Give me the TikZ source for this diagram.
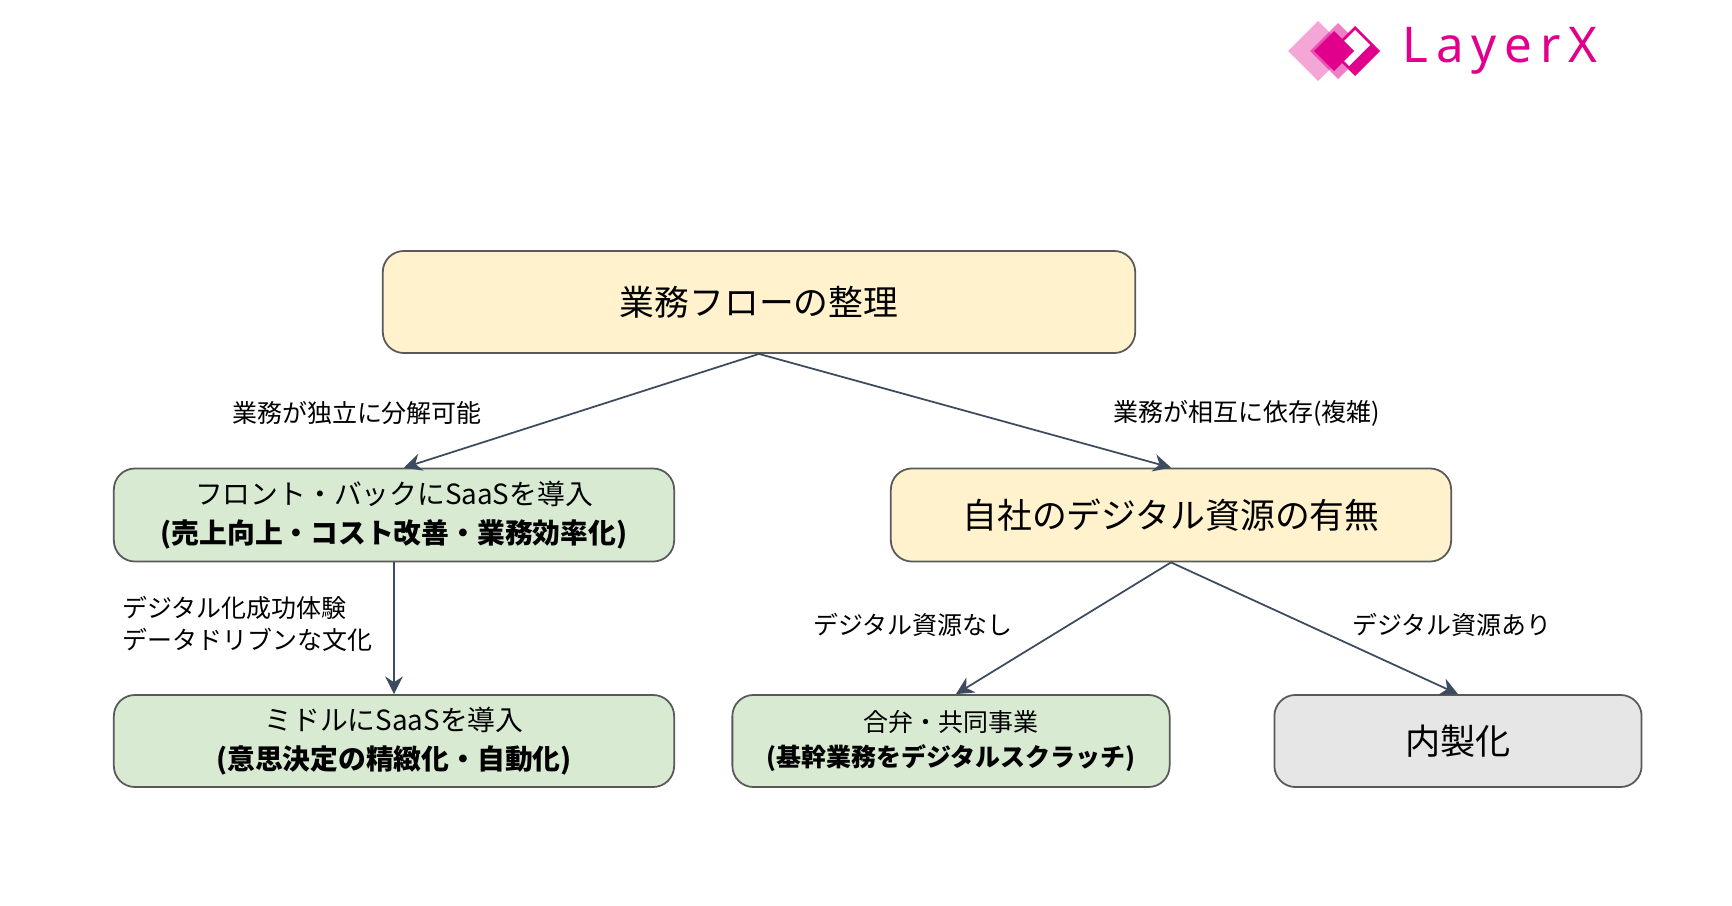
\documentclass[tikz,border=0pt]{standalone}
\usepackage{fontspec}
\setmainfont{Noto Sans CJK JP}
\newfontfamily\logofont[LetterSpace=16]{Noto Sans}
\usetikzlibrary{arrows.meta}
\definecolor{boxyellow}{HTML}{FFF2CC}
\definecolor{boxgreen}{HTML}{D9EAD3}
\definecolor{boxgray}{HTML}{E6E6E6}
\definecolor{lineblue}{HTML}{3D4B5E}
\definecolor{lxpink}{HTML}{E0008C}
\begin{document}
\begin{tikzpicture}[
    x=0.01cm, y=-0.01cm,
    box/.style={
        draw=black!65,
        line width=0.5pt,
        rounded corners=6pt,
        align=center,
        inner sep=0pt
    },
    yellowbox/.style={box, fill=boxyellow},
    greenbox/.style={box, fill=boxgreen},
    graybox/.style={box, fill=boxgray},
    lbl/.style={font=\fontsize{7.1}{9}\selectfont},
    arr/.style={-{Stealth[length=5pt,width=5pt]}, draw=lineblue, line width=0.5pt}
]
    \useasboundingbox (0,0) rectangle (1732,906);

    % --- Logo ---
    \fill[lxpink, opacity=0.35] (1288,51) -- (1318,21) -- (1348,51) -- (1318,81) -- cycle;
    \fill[lxpink, opacity=0.5] (1310,51) -- (1338,23) -- (1366,51) -- (1338,79) -- cycle;
    \fill[lxpink] (1330,51) -- (1355,26) -- (1380,51) -- (1355,76) -- cycle;
    \fill[white] (1334,51) -- (1355,30) -- (1370,45) -- (1349,66) -- cycle;
    \fill[lxpink] (1314,51) -- (1334,31) -- (1354,51) -- (1334,71) -- cycle;
    \node[anchor=west, text=lxpink, font=\logofont\bfseries\fontsize{14}{14}\selectfont] (logo) at (1390,51) {LayerX};

    % --- Boxes ---
    \node[yellowbox, minimum width=7.52cm, minimum height=1.02cm, font=\fontsize{9.9}{12}\selectfont] (flow) at (759,302) {業務フローの整理};
    \node[greenbox, minimum width=5.6cm, minimum height=0.93cm, font=\fontsize{7.9}{11}\selectfont] (front) at (394,515)
        {フロント・バックにSaaSを導入\\\textbf{(売上向上・コスト改善・業務効率化)}};
    \node[yellowbox, minimum width=5.6cm, minimum height=0.93cm, font=\fontsize{9.9}{12}\selectfont] (asset) at (1171,515) {自社のデジタル資源の有無};
    \node[greenbox, minimum width=5.6cm, minimum height=0.92cm, font=\fontsize{7.9}{11}\selectfont] (middle) at (394,741)
        {ミドルにSaaSを導入\\\textbf{(意思決定の精緻化・自動化)}};
    \node[greenbox, minimum width=4.37cm, minimum height=0.92cm, font=\fontsize{7.1}{10}\selectfont] (joint) at (951,741)
        {合弁・共同事業\\\textbf{(基幹業務をデジタルスクラッチ)}};
    \node[graybox, minimum width=3.67cm, minimum height=0.92cm, font=\fontsize{10}{12}\selectfont] (inhouse) at (1458,741) {内製化};

    % --- Connectors ---
    \draw[arr] (flow.south) -- ([xshift=0.1cm]front.north);
    \draw[arr] (flow.south) -- (asset.north);
    \draw[arr] (front.south) -- (middle.north);
    \draw[arr] (asset.south) -- ([xshift=0.05cm]joint.north);
    \draw[arr] (asset.south) -- (inhouse.north);

    % --- Labels ---
    \node[lbl] (l1) at (357,413) {業務が独立に分解可能};
    \node[lbl] (l2) at (1247,413) {業務が相互に依存(複雑)};
    \node[lbl, anchor=west, align=left] (l3) at (110,624) {デジタル化成功体験\\データドリブンな文化};
    \node[lbl] (l4) at (913,625) {デジタル資源なし};
    \node[lbl] (l5) at (1452,625) {デジタル資源あり};
\end{tikzpicture}
\end{document}
